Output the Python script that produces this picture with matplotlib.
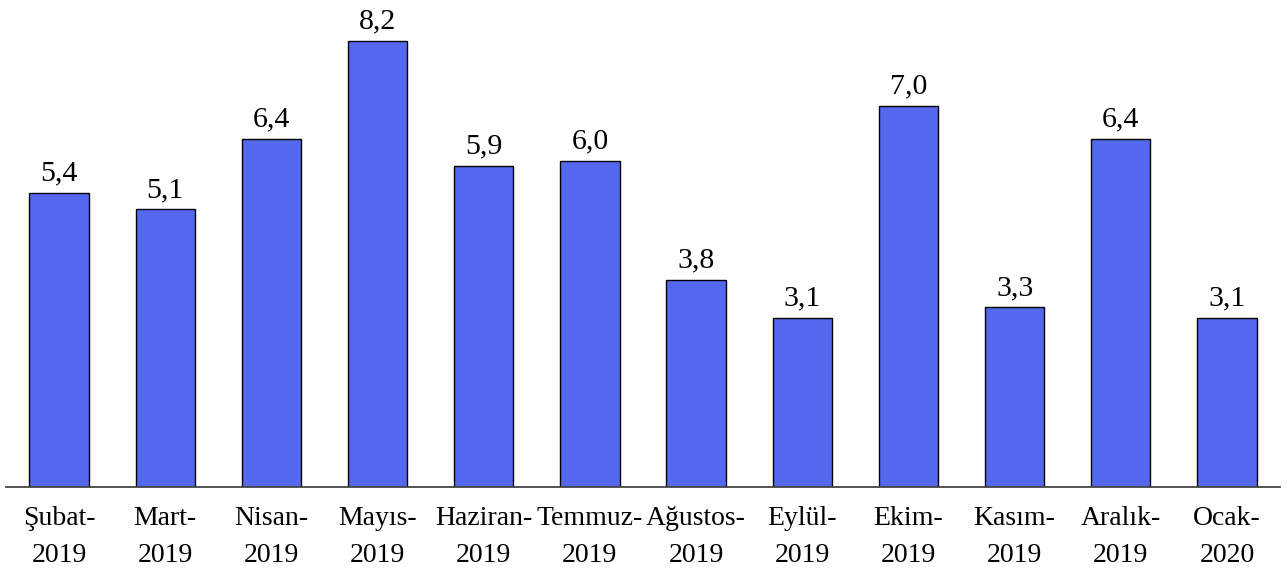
import matplotlib
matplotlib.use("Agg")
import matplotlib.pyplot as plt

# Monthly values
months = ["Şubat-\n2019", "Mart-\n2019", "Nisan-\n2019", "Mayıs-\n2019",
          "Haziran-\n2019", "Temmuz-\n2019", "Ağustos-\n2019", "Eylül-\n2019",
          "Ekim-\n2019", "Kasım-\n2019", "Aralık-\n2019", "Ocak-\n2020"]
values = [5.4, 5.1, 6.4, 8.2, 5.9, 6.0, 3.8, 3.1, 7.0, 3.3, 6.4, 3.1]

plt.rcParams['font.family'] = ['Liberation Serif', 'DejaVu Serif']

fig = plt.figure(figsize=(12.88, 5.72), dpi=100)
ax = fig.add_axes([6 / 1288, 85 / 572, 1274 / 1288, 487 / 572])

x = range(len(values))
bars = ax.bar(x, values, width=0.56, color='#5468EE', edgecolor='black', linewidth=1)

for b, v in zip(bars, values):
    ax.text(b.get_x() + b.get_width() / 2, v + 0.12, f"{v:.1f}".replace('.', ','),
            ha='center', va='bottom', fontsize=21.5)

ax.set_xlim(-0.5, 11.5)
ax.set_ylim(0, 8.95)
ax.set_xticks(list(x))
ax.set_xticklabels(months, fontsize=20, linespacing=1.62)
ax.tick_params(axis='x', length=0, pad=14)
ax.set_yticks([])
for side in ['top', 'right', 'left']:
    ax.spines[side].set_visible(False)
ax.spines['bottom'].set_color('#444444')
ax.spines['bottom'].set_linewidth(1.3)

fig.savefig("out.png", dpi=100)
